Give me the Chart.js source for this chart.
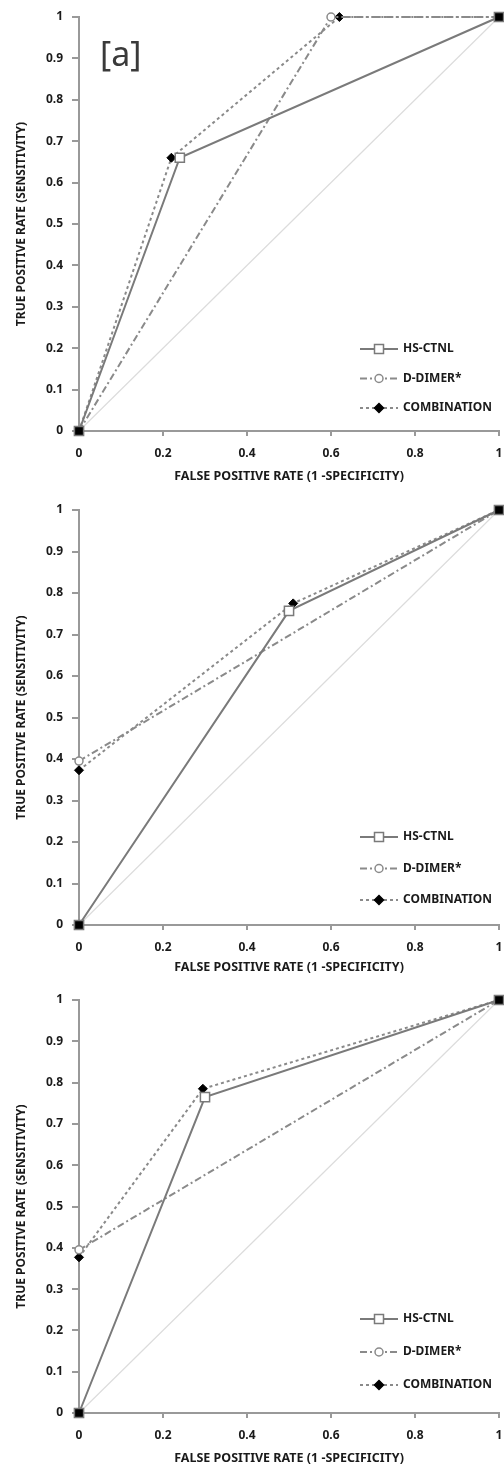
<!DOCTYPE html>
<html>
<head>
<meta charset="utf-8">
<script src="https://cdn.jsdelivr.net/npm/chart.js@4.4.1/dist/chart.umd.min.js"></script>
<style>
  html, body { margin: 0; background: #fff; overflow: hidden; width: 504px; }
  .panel { position: relative; width: 504px; }
</style>
</head>
<body>
<div class="panel" style="height:484px"><canvas id="chartA"></canvas></div>
<div class="panel" style="height:491px"><canvas id="chartB"></canvas></div>
<div class="panel" style="height:491px"><canvas id="chartC"></canvas></div>
<script>
const seriesNames = ["HS-CTNL", "D-DIMER*", "COMBINATION"];
const xTickValues = [0, 0.2, 0.4, 0.6, 0.8, 1];
const xTickLabels = ["0", "0.2", "0.4", "0.6", "0.8", "1"];
const yTickValues = [0, 0.1, 0.2, 0.3, 0.4, 0.5, 0.6, 0.7, 0.8, 0.9, 1];
const yTickLabels = ["0", "0.1", "0.2", "0.3", "0.4", "0.5", "0.6", "0.7", "0.8", "0.9", "1"];

// panel [a]
const hsA_fpr = [0, 0.24, 1];
const hsA_tpr = [0, 0.66, 1];
const ddA_fpr = [0, 0.6, 1];
const ddA_tpr = [0, 1, 1];
const coA_fpr = [0, 0.22, 0.62, 1];
const coA_tpr = [0, 0.66, 1, 1];

// panel 2
const hsB_fpr = [0, 0.5, 1];
const hsB_tpr = [0, 0.757, 1];
const ddB_fpr = [0, 1];
const ddB_tpr = [0.395, 1];
const coB_fpr = [0, 0.51, 1];
const coB_tpr = [0.373, 0.775, 1];

// panel 3
const hsC_fpr = [0, 0.3, 1];
const hsC_tpr = [0, 0.765, 1];
const ddC_fpr = [0, 1];
const ddC_tpr = [0.395, 1];
const coC_fpr = [0, 0.295, 1];
const coC_tpr = [0.377, 0.785, 1];

const diag_fpr = [0, 1];
const diag_tpr = [0, 1];

const FONT = "'Noto Sans', 'Open Sans', sans-serif";

function pts(xs, ys) {
  return xs.map((x, i) => ({ x: x, y: ys[i] }));
}

// end points (0,0) and (1,1) come out solid black in the original
function endFill(fill) {
  return function (c) {
    const p = c.raw;
    if (p && ((p.x === 0 && p.y === 0) || (p.x === 1 && p.y === 1))) return "#000";
    return fill;
  };
}

const legendPlugin = {
  id: "rocLegend",
  afterDraw(chart) {
    const ctx = chart.ctx;
    const area = chart.chartArea;
    const opts = chart.options.plugins.rocLegend;
    const x0 = 360, x1 = 398, xt = 403;
    ctx.save();
    chart.data.datasets.forEach((ds, i) => {
      if (!ds.showInLegend) return;
      const y = area.bottom - opts.offset + i * opts.step;
      ctx.strokeStyle = ds.borderColor;
      ctx.lineWidth = ds.borderWidth;
      ctx.setLineDash(ds.borderDash || []);
      ctx.beginPath();
      ctx.moveTo(x0, y);
      ctx.lineTo(x1, y);
      ctx.stroke();
      ctx.setLineDash([]);
      const xm = (x0 + x1) / 2;
      ctx.lineWidth = 1.5;
      ctx.strokeStyle = ds.pointBorderColor;
      ctx.fillStyle = ds.legendFill;
      ctx.beginPath();
      if (ds.pointStyle === "rect") {
        ctx.rect(xm - 4.5, y - 4.5, 9, 9);
      } else if (ds.pointStyle === "circle") {
        ctx.arc(xm, y, 4, 0, Math.PI * 2);
      } else {
        ctx.moveTo(xm, y - 4.5); ctx.lineTo(xm + 4.5, y);
        ctx.lineTo(xm, y + 4.5); ctx.lineTo(xm - 4.5, y); ctx.closePath();
      }
      ctx.fill();
      ctx.stroke();
      ctx.fillStyle = "#1a1a1a";
      ctx.font = "bold 12px " + FONT;
      ctx.textBaseline = "middle";
      ctx.textAlign = "left";
      ctx.fillText(ds.label, xt, y);
    });
    if (opts.tag) {
      ctx.fillStyle = "#3a3a3a";
      ctx.font = "34px " + FONT;
      ctx.textBaseline = "middle";
      ctx.fillText(opts.tag, area.left + 21, area.top + 39);
    }
    ctx.restore();
  }
};

function makeChart(id, hs, dd, co, tag, topPad, xAxisHeight, legendOffset, legendStep) {
  const datasets = [
    {
      label: seriesNames[0], data: hs, showInLegend: true,
      borderColor: "#7a7a7a", borderWidth: 2, borderDash: [],
      pointStyle: "rect", pointRadius: 6.5, pointBorderWidth: 1.5,
      pointBorderColor: "#7a7a7a", pointBackgroundColor: endFill("#fff"), legendFill: "#fff"
    },
    {
      label: seriesNames[1], data: dd, showInLegend: true,
      borderColor: "#8a8a8a", borderWidth: 2, borderDash: [7, 3, 2, 3],
      pointStyle: "circle", pointRadius: 4, pointBorderWidth: 1.5,
      pointBorderColor: "#8a8a8a", pointBackgroundColor: endFill("#fff"), legendFill: "#fff"
    },
    {
      label: seriesNames[2], data: co, showInLegend: true,
      borderColor: "#8a8a8a", borderWidth: 2, borderDash: [3, 3],
      pointStyle: "rectRot", pointRadius: 4.5, pointBorderWidth: 1,
      pointBorderColor: "#000", pointBackgroundColor: "#000", legendFill: "#000"
    },
    {
      label: "ref", data: pts(diag_fpr, diag_tpr), showInLegend: false,
      borderColor: "#dcdcdc", borderWidth: 1.2, pointRadius: 0
    }
  ];
  return new Chart(document.getElementById(id), {
    type: "scatter",
    data: { datasets: datasets.map(d => Object.assign({ showLine: true, fill: false, tension: 0 }, d)) },
    options: {
      responsive: true,
      maintainAspectRatio: false,
      animation: false,
      clip: false,
      layout: { autoPadding: false, padding: { top: topPad, right: 5, left: 0, bottom: 0 } },
      plugins: {
        legend: { display: false },
        tooltip: { enabled: false },
        rocLegend: { tag: tag, offset: legendOffset, step: legendStep }
      },
      scales: {
        x: {
          type: "linear", min: 0, max: 1,
          afterBuildTicks: s => { s.ticks = xTickValues.map(v => ({ value: v })); },
          afterFit: s => { s.height = xAxisHeight; s.paddingLeft = 0; s.paddingRight = 0; },
          ticks: {
            callback: (v, i) => xTickLabels[i],
            color: "#1a1a1a", padding: 10,
            font: { family: FONT, weight: "bold", size: 12 },
            maxRotation: 0
          },
          grid: { drawOnChartArea: false, tickLength: 5, color: "#999", lineWidth: 2 },
          border: { color: "#999", width: 2 },
          title: {
            display: true, text: "FALSE POSITIVE RATE (1 -SPECIFICITY)",
            color: "#1a1a1a", font: { family: FONT, weight: "bold", size: 12.5 },
            padding: { top: 0, bottom: 0 }
          }
        },
        y: {
          type: "linear", min: 0, max: 1,
          afterBuildTicks: s => { s.ticks = yTickValues.map(v => ({ value: v })); },
          afterFit: s => { s.width = 79; s.paddingTop = 0; s.paddingBottom = 0; },
          ticks: {
            callback: (v, i) => yTickLabels[i],
            color: "#1a1a1a", padding: 9,
            font: { family: FONT, weight: "bold", size: 12 }
          },
          grid: { drawOnChartArea: false, tickLength: 7, color: "#999", lineWidth: 2 },
          border: { color: "#999", width: 2 },
          title: {
            display: true, text: "TRUE POSITIVE RATE (SENSITIVITY)",
            color: "#1a1a1a", font: { family: FONT, weight: "bold", size: 12 },
            padding: { top: 14, bottom: 0 }
          }
        }
      }
    },
    plugins: [legendPlugin]
  });
}

makeChart("chartA", pts(hsA_fpr, hsA_tpr), pts(ddA_fpr, ddA_tpr), pts(coA_fpr, coA_tpr), "[a]", 17, 53, 82, 29.5);
makeChart("chartB", pts(hsB_fpr, hsB_tpr), pts(ddB_fpr, ddB_tpr), pts(coB_fpr, coB_tpr), null, 26, 50, 88, 31.5);
makeChart("chartC", pts(hsC_fpr, hsC_tpr), pts(ddC_fpr, ddC_tpr), pts(coC_fpr, coC_tpr), null, 25, 53, 94, 33);
</script>
</body>
</html>
